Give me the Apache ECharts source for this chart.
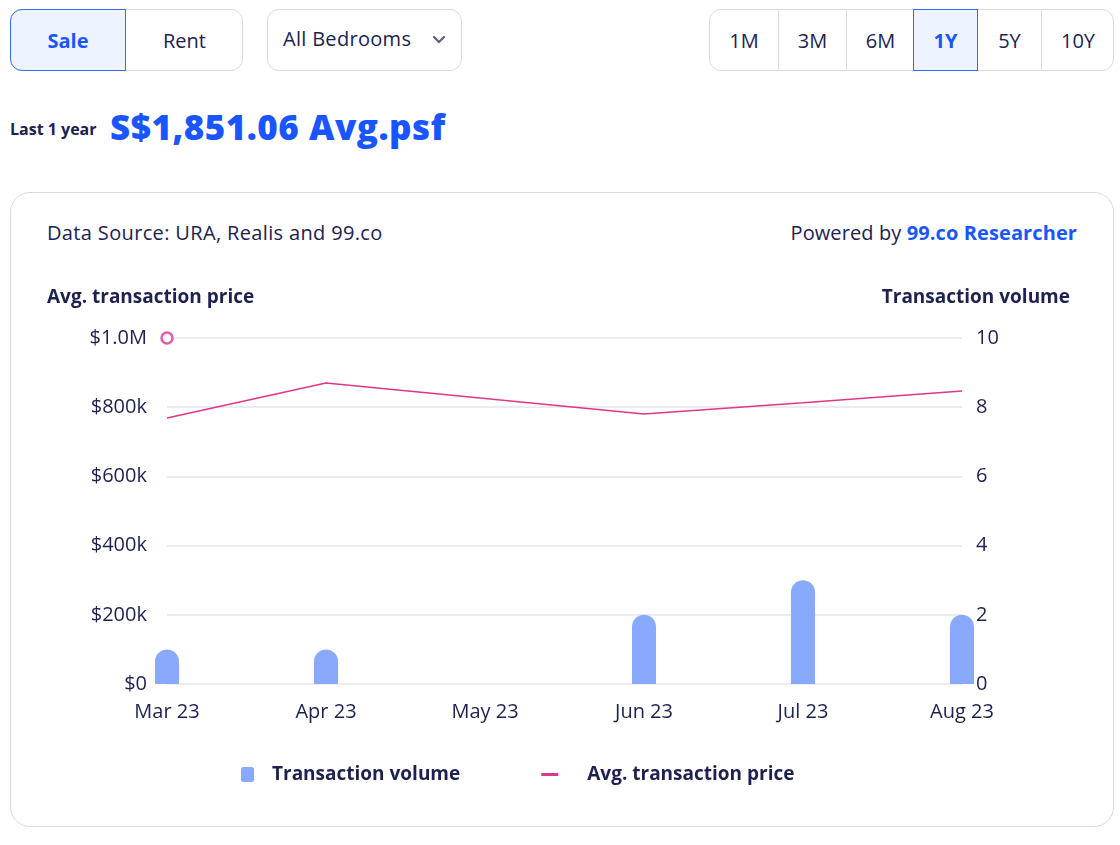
<!DOCTYPE html>
<html>
<head>
<meta charset="utf-8">
<script src="https://cdn.jsdelivr.net/npm/echarts@6/dist/echarts.min.js"></script>
<style>
	body { margin: 0; background: #fff; font-family: "Open Sans", Lato, sans-serif; color: #1d2150; }
	#page { position: relative; width: 1120px; height: 845px; overflow: hidden; }
	.box { position: absolute; box-sizing: border-box; border: 1px solid #d9dbe6; border-radius: 12px; background: #fff; }
	.cell { position: absolute; top: 0; height: 100%; box-sizing: border-box; display: flex; align-items: center; justify-content: center; font-size: 20px; color: #1d2150; }
	.sel { background: #edf3ff; border: 1px solid #2f6bff; color: #1a56ff; font-weight: 700; }
	.sep { border-left: 1px solid #d9dbe6; }
	#card { position: absolute; left: 10px; top: 192px; width: 1104px; height: 635px; box-sizing: border-box; border: 1px solid #d9dbe6; border-radius: 20px; }
	#chart { position: absolute; left: 0; top: 0; width: 1120px; height: 845px; }
	.txt { position: absolute; white-space: nowrap; }
</style>
</head>
<body>
<div id="page">
	<div class="box" style="left:10px;top:9px;width:233px;height:62px;">
		<div class="cell sel" style="left:-1px;top:-1px;height:62px;width:116px;border-radius:12px 0 0 12px;">Sale</div>
		<div class="cell" style="left:115px;width:117px;">Rent</div>
	</div>
	<div class="box" style="left:267px;top:9px;width:195px;height:62px;">
		<div class="txt" style="left:15px;top:15px;font-size:20px;letter-spacing:0.3px;">All Bedrooms</div>
		<svg style="position:absolute;left:164px;top:25px" width="14" height="10"><path d="M2 2 L7 7 L12 2" stroke="#5a5f7d" stroke-width="2.2" fill="none" stroke-linecap="round"/></svg>
	</div>
	<div class="box" style="left:709px;top:9px;width:405px;height:62px;">
		<div class="cell" style="left:0;width:68px;">1M</div>
		<div class="cell sep" style="left:68px;width:68px;">3M</div>
		<div class="cell sep" style="left:136px;width:68px;">6M</div>
		<div class="cell sel" style="left:203px;top:-1px;height:62px;width:65px;">1Y</div>
		<div class="cell" style="left:268px;width:63px;">5Y</div>
		<div class="cell sep" style="left:331px;width:73px;">10Y</div>
	</div>
	<div class="txt" style="left:10px;top:118px;font-size:16px;font-weight:700;">Last 1 year</div>
	<div class="txt" style="left:110px;top:103px;font-size:35px;font-weight:800;color:#1a56ff;letter-spacing:0.5px;">S$1,851.06 Avg.psf</div>
	<div id="card"></div>
	<div class="txt" style="left:47px;top:219px;font-size:20px;letter-spacing:0.35px;">Data Source: URA, Realis and 99.co</div>
	<div class="txt" style="right:43px;top:219px;font-size:20px;letter-spacing:0.1px;">Powered by <span style="color:#1a56ff;font-weight:700;">99.co Researcher</span></div>
	<div id="chart"></div>
</div>
<script>
var months = ['Mar 23', 'Apr 23', 'May 23', 'Jun 23', 'Jul 23', 'Aug 23'];
var volume = [1, 1, 0, 2, 3, 2];
var avgPrice = [769000, 870000, null, 780000, 813000, 847000];
var markerPoint = [['Mar 23', 1000000]];
var priceTicks = ['$0', '$200k', '$400k', '$600k', '$800k', '$1.0M'];

var ink = '#1d2150';
var font = '"Open Sans", Lato, sans-serif';
var myChart = echarts.init(document.getElementById('chart'));

var option = {
	animation: false,
	textStyle: { fontFamily: font, color: ink },
	grid: { left: 167, right: 158, top: 338, bottom: 161 },
	graphic: [
		{ type: 'text', left: 47, top: 288, style: { text: 'Avg. transaction price', font: '700 19px "Open Sans"', fill: ink } },
		{ type: 'text', right: 50, top: 288, style: { text: 'Transaction volume', font: '700 19px "Open Sans"', fill: ink } }
	],
	legend: {
		left: 221, top: 760,
		itemGap: 81, itemWidth: 41, itemHeight: 15,
		textStyle: { fontFamily: font, fontSize: 19, fontWeight: 700, color: ink },
		data: [
			{ name: 'Transaction volume', icon: 'path://M0,0M17.5,0h8a2.5,2.5 0 0 1 2.5,2.5v10a2.5,2.5 0 0 1 -2.5,2.5h-8a2.5,2.5 0 0 1 -2.5,-2.5v-10a2.5,2.5 0 0 1 2.5,-2.5zM41,15' },
			{ name: 'Avg. transaction price', icon: 'path://M0,0M0,6h17v3H0zM41,15', itemStyle: { color: '#e0368a' } }
		]
	},
	xAxis: {
		type: 'category',
		data: months,
		boundaryGap: false,
		axisLine: { show: false },
		axisTick: { show: false },
		axisLabel: { fontSize: 20, color: ink, margin: 18 }
	},
	yAxis: [{
		type: 'value',
		min: 0, max: 1000000, interval: 200000,
		axisLine: { show: false },
		axisTick: { show: false },
		splitLine: { lineStyle: { color: '#e4e5ee', width: 1.5 } },
		axisLabel: {
			fontSize: 20, color: ink, margin: 20,
			formatter: function(v) { return priceTicks[Math.round(v / 200000)]; }
		}
	}, {
		type: 'value',
		min: 0, max: 10, interval: 2,
		axisLine: { show: false },
		axisTick: { show: false },
		splitLine: { show: false },
		axisLabel: { fontSize: 20, color: ink, margin: 14 }
	}],
	series: [{
		name: 'Transaction volume',
		type: 'bar',
		yAxisIndex: 1,
		data: volume,
		barWidth: 24,
		clip: false,
		itemStyle: { color: '#88a9fc', borderRadius: [12, 12, 0, 0] }
	}, {
		name: 'Avg. transaction price',
		type: 'line',
		data: avgPrice,
		connectNulls: true,
		symbol: 'none',
		itemStyle: { color: '#e0368a' },
		lineStyle: { color: '#e0368a', width: 1.5 }
	}, {
		name: 'marker',
		type: 'scatter',
		data: markerPoint,
		symbolSize: 11,
		clip: false,
		itemStyle: { color: '#fff', borderColor: '#e0368a', borderWidth: 2.5 }
	}]
};
myChart.setOption(option);
</script>
</body>
</html>
